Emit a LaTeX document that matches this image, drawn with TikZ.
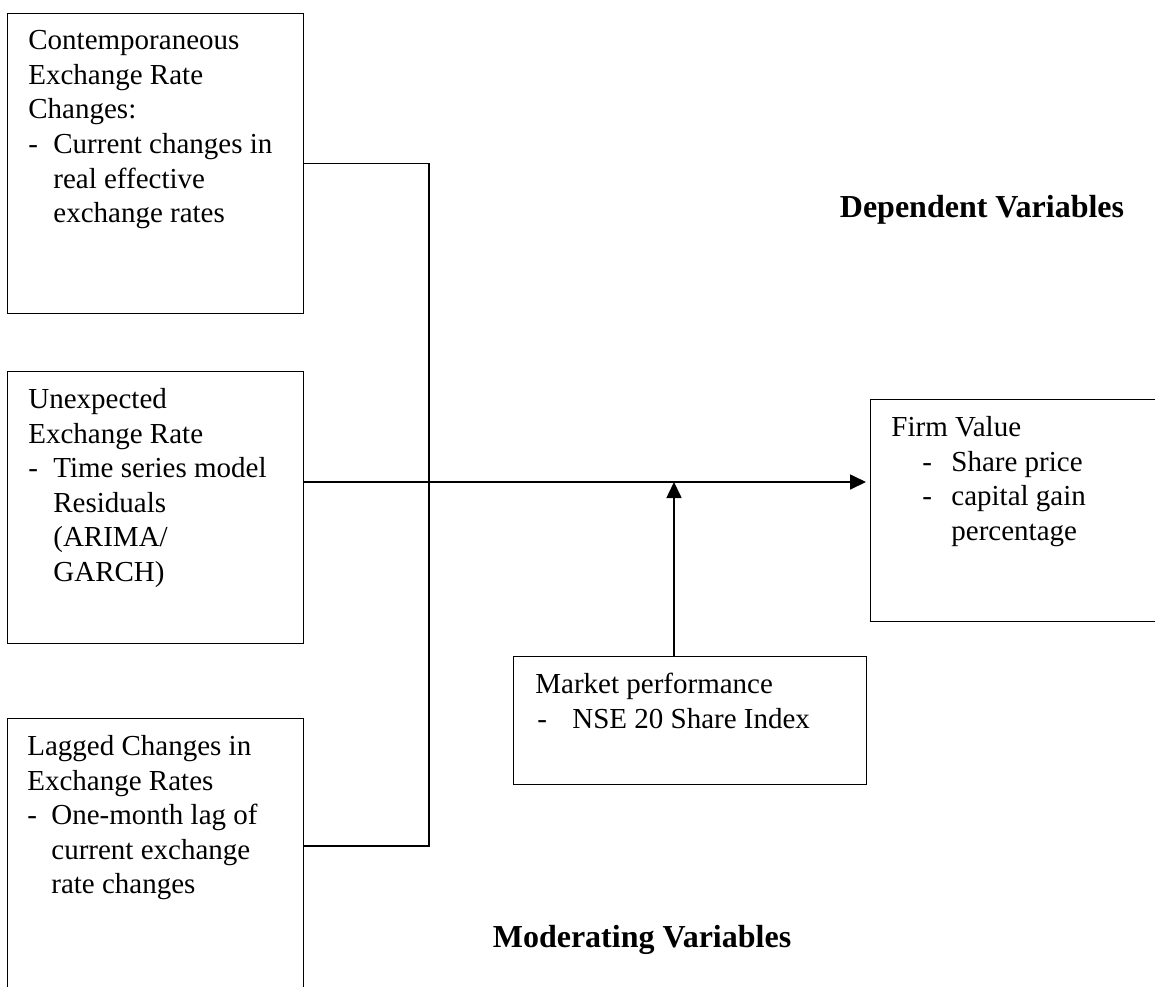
\documentclass[tikz,border=0pt]{standalone}
\usepackage{fontspec}
\setmainfont{Liberation Serif}
\usetikzlibrary{arrows.meta,calc}

\newcommand{\itemline}[3]{\hspace*{#1}\makebox[#2][l]{-}#3}
\newcommand{\hangline}[2]{\hspace*{#1}#2}

\tikzset{
  varbox/.style={draw, line width=0.6pt, inner sep=0pt, anchor=north west},
  vartext/.style={anchor=north west, inner sep=0pt, align=left, font=\fontsize{14.5}{17.3}\selectfont},
  heading/.style={anchor=base, inner sep=0pt, font=\fontsize{16}{19}\selectfont\bfseries},
  link/.style={line width=0.55pt},
  flow/.style={line width=0.85pt, -{Triangle[length=8pt,width=7.5pt]}}
}

\begin{document}
\begin{tikzpicture}[x=0.5pt,y=-0.5pt]
\clip (0,0) rectangle (1155,986);

\node[varbox, minimum width=148pt, minimum height=150pt] (cont) at (7,13) {};
\node[varbox, minimum width=148pt, minimum height=136pt] (unexp) at (7,371) {};
\node[varbox, minimum width=148pt, minimum height=150pt] (lag) at (7,718) {};
\node[varbox, minimum width=150pt, minimum height=111pt] (firm) at (870,399) {};
\node[varbox, minimum width=176.5pt, minimum height=64pt] (mkt) at (513,656) {};

\node[vartext] (conttext) at ($(cont.north west)+(21,17)$) {Contemporaneous\\Exchange Rate\\Changes:\\\itemline{0pt}{12.5pt}{Current changes in}\\\hangline{12.5pt}{real effective}\\\hangline{12.5pt}{exchange rates}};
\node[vartext] (unexptext) at ($(unexp.north west)+(21,17)$) {Unexpected\\Exchange Rate\\\itemline{0pt}{12.5pt}{Time series model}\\\hangline{12.5pt}{Residuals}\\\hangline{12.5pt}{(ARIMA/}\\\hangline{12.5pt}{GARCH)}};
\node[vartext] (lagtext) at ($(lag.north west)+(20,17)$) {Lagged Changes in\\Exchange Rates\\\itemline{0pt}{12pt}{One-month lag of}\\\hangline{12pt}{current exchange}\\\hangline{12pt}{rate changes}};
\node[vartext] (firmtext) at ($(firm.north west)+(21,17)$) {Firm Value\\\itemline{15.5pt}{14.5pt}{Share price}\\\itemline{15.5pt}{14.5pt}{capital gain}\\\hangline{30pt}{percentage}};
\node[vartext] (mkttext) at ($(mkt.north west)+(22,17)$) {Market performance\\\itemline{1pt}{17.5pt}{NSE 20 Share Index}};

\node[heading] (dep) at (982,217) {Dependent Variables};
\node[heading] (mod) at (642,947) {Moderating Variables};

\coordinate (hub) at (429,482);
\coordinate (mktup) at ($(mkt.north west)+(161,0)$);
\draw[link] (cont.east) -| (hub) |- ($(lag.north east)+(0,128)$);
\draw[link] ($(unexp.north east)+(0,111)$) -- (hub);
\draw[flow, shorten >=2pt] (hub) -- (hub -| firm.west);
\draw[flow] (mktup) -- (mktup |- hub);
\end{tikzpicture}
\end{document}
